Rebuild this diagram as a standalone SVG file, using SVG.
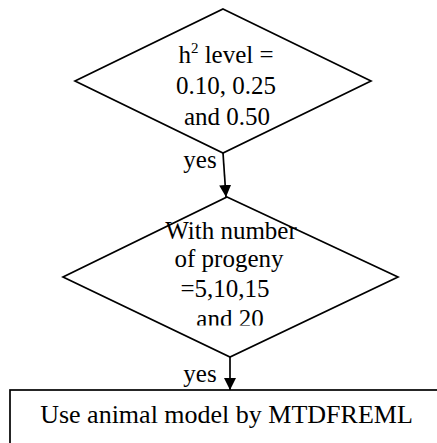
<svg xmlns="http://www.w3.org/2000/svg" width="437" height="443" viewBox="0 0 437 443">
  <style>
    .shape { fill: #ffffff; stroke: #000000; stroke-width: 1.7; }
    .edge { fill: none; stroke: #000000; stroke-width: 1.7; }
    .label { font-family: "Liberation Serif", "Times New Roman", serif; font-size: 25px; fill: #000000; text-anchor: middle; }
    .big { font-size: 26px; }
    .sup { font-size: 15px; }
  </style>
  <defs>
    <marker id="arrow" viewBox="0 0 10 10" refX="10" refY="5" markerWidth="12" markerHeight="12" markerUnits="userSpaceOnUse" orient="auto">
      <path d="M0,0 L10,5 L0,10 Z" fill="#000000"/>
    </marker>
    <!-- the text frame of the progeny decision trims the foot of the last line -->
    <clipPath id="clip-progeny">
      <rect x="150" y="200" width="170" height="125.5"/>
    </clipPath>
  </defs>

  <rect width="437" height="443" fill="#ffffff"/>

  <!-- decision: heritability level -->
  <g id="node-h2-level">
    <polygon class="shape" points="223,9 371,81 223,153 75,81"/>
    <text class="label" x="226" y="63">h<tspan class="sup" dy="-10">2</tspan><tspan dy="10"> level =</tspan></text>
    <text class="label" x="226" y="94">0.10, 0.25</text>
    <text class="label" x="227" y="125">and 0.50</text>
  </g>

  <!-- decision: number of progeny -->
  <g id="node-progeny">
    <polygon class="shape" points="227,197 398,277 230,357 63,277"/>
    <g clip-path="url(#clip-progeny)">
      <text class="label" x="231" y="239">With number</text>
      <text class="label" x="229" y="267">of progeny</text>
      <text class="label" x="225" y="297">=5,10,15</text>
      <text class="label" x="230" y="326.5">and 20</text>
    </g>
  </g>

  <!-- process: animal model -->
  <g id="node-mtdfreml">
    <rect class="shape" x="10" y="390" width="440" height="70"/>
    <text class="label big" x="226.5" y="423">Use animal model by MTDFREML</text>
  </g>

  <!-- connectors -->
  <g id="connectors">
    <line class="edge" x1="223" y1="153" x2="226" y2="197" marker-end="url(#arrow)"/>
    <text class="label" x="200" y="168">yes</text>
    <line class="edge" x1="230" y1="357" x2="230" y2="390" marker-end="url(#arrow)"/>
    <text class="label" x="200" y="382">yes</text>
  </g>
</svg>
